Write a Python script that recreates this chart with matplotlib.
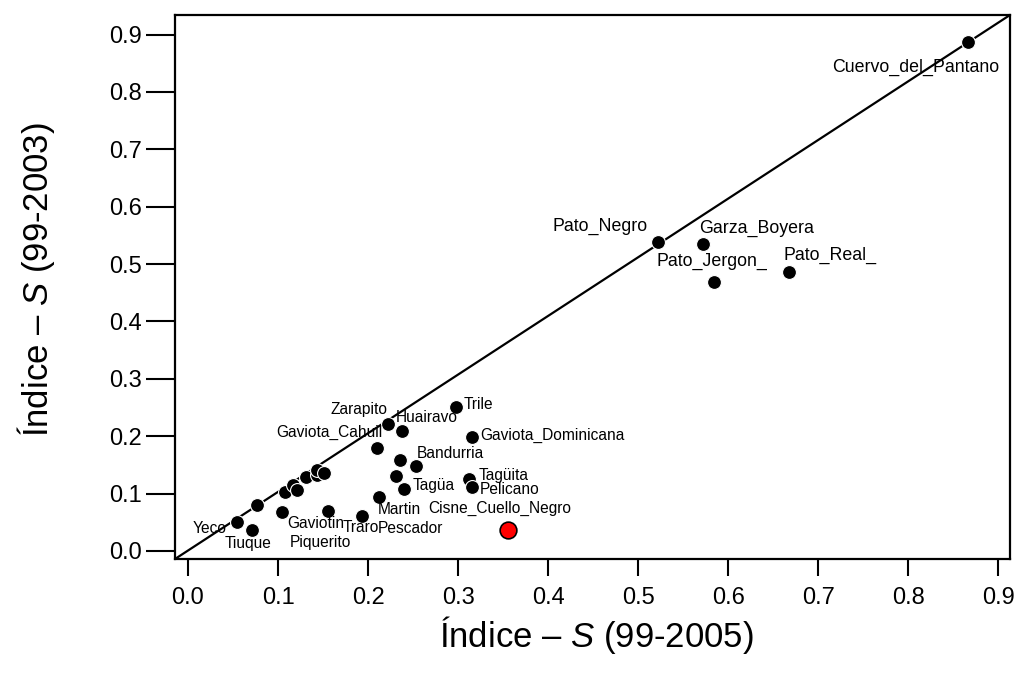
import numpy as np
import matplotlib
matplotlib.use("Agg")
import matplotlib.pyplot as plt

plt.rcParams['font.family'] = ['Liberation Sans', 'DejaVu Sans']
plt.rcParams['mathtext.fontset'] = 'custom'
plt.rcParams['mathtext.rm'] = 'Liberation Sans'
plt.rcParams['mathtext.it'] = 'Liberation Sans:italic'

# S index per species, two periods
species = [
    "Cuervo_del_Pantano", "Pato_Negro", "Garza_Boyera", "Pato_Jergon_", "Pato_Real_",
    "Trile", "Zarapito", "Huairavo", "Gaviota_Cahuil", "Gaviota_Dominicana",
    "", "Bandurria", "", "Tagüita", "Pelicano", "Tagüa", "Martin\nPescador",
    "Cisne_Cuello_Negro", "Traro", "Yeco", "Tiuque", "", "Gaviotin", "Piquerito",
    "", "", "", "", "", "", "",
]
s_99_2005 = [
    0.866, 0.522, 0.572, 0.584, 0.667,
    0.298, 0.222, 0.238, 0.210, 0.316,
    0.236, 0.253, 0.231, 0.312, 0.316, 0.240, 0.212,
    0.356, 0.193, 0.054, 0.071, 0.077, 0.104, 0.156,
    0.108, 0.117, 0.121, 0.131, 0.143, 0.143, 0.151,
]
s_99_2003 = [
    0.887, 0.538, 0.535, 0.469, 0.486,
    0.251, 0.221, 0.209, 0.179, 0.199,
    0.159, 0.148, 0.131, 0.125, 0.111, 0.108, 0.094,
    0.037, 0.061, 0.051, 0.037, 0.080, 0.068, 0.070,
    0.103, 0.115, 0.106, 0.129, 0.132, 0.141, 0.136,
]
highlight = "Cisne_Cuello_Negro"
ticks = [0.0, 0.1, 0.2, 0.3, 0.4, 0.5, 0.6, 0.7, 0.8, 0.9]

# label placement: dx, dy (pixels), horizontal alignment, font size
label_pos = {
    "Cuervo_del_Pantano": (32, -25, 'right', 12.8),
    "Pato_Negro": (-10, 16, 'right', 12.8),
    "Garza_Boyera": (-4, 16, 'left', 12.8),
    "Pato_Jergon_": (-2, 20, 'center', 12.8),
    "Pato_Real_": (-5, 17, 'left', 12.8),
    "Trile": (7, 2, 'left', 11.2),
    "Zarapito": (0, 15, 'right', 11.2),
    "Huairavo": (-7, 14, 'left', 11.2),
    "Gaviota_Cahuil": (5, 16, 'right', 11.2),
    "Gaviota_Dominicana": (8, 1, 'left', 11.2),
    "Bandurria": (1, 13, 'left', 11.2),
    "Tagüita": (10, 4, 'left', 11.2),
    "Pelicano": (7, -2, 'left', 11.2),
    "Tagüa": (9, 3, 'left', 11.2),
    "Martin\nPescador": (-1, -12, 'left', 11.2),
    "Cisne_Cuello_Negro": (-9, 21, 'center', 11.2),
    "Traro": (-1, -12, 'center', 11.2),
    "Yeco": (-10, -7, 'right', 11.2),
    "Tiuque": (-4, -14, 'center', 11.2),
    "Gaviotin": (6, -12, 'left', 11.2),
    "Piquerito": (-39, -32, 'left', 11.2),
}
line_step = 19  # pixels between lines of a two-line label

x = np.array(s_99_2005)
y = np.array(s_99_2003)
is_red = np.array([n == highlight for n in species])

fig = plt.figure(figsize=(10.16, 6.84), dpi=100)
ax = fig.add_axes([175 / 1016, 125 / 684, 835 / 1016, 544 / 684])

# 1:1 reference line, corner to corner of the plot region
ax.plot([0, 1], [0, 1], transform=ax.transAxes, color='black', lw=1.6, zorder=1)
ax.scatter(x[~is_red], y[~is_red], s=100, c='black', edgecolors='white',
           linewidths=0.8, zorder=3)
ax.scatter(x[is_red], y[is_red], s=145, c='red', edgecolors='black',
           linewidths=1.2, zorder=3)

for name, xi, yi in zip(species, x, y):
    if name not in label_pos:
        continue
    dx, dy, ha, fs = label_pos[name]
    for k, line in enumerate(name.split("\n")):
        ax.annotate(line, (xi, yi), xytext=(dx, dy - k * line_step),
                    textcoords='offset pixels', ha=ha, va='center',
                    fontsize=fs, zorder=4)

ax.set_xlim(-0.0144, 0.913)
ax.set_ylim(-0.014, 0.934)
ax.set_xticks(ticks)
ax.set_yticks(ticks)
ax.set_xticklabels([f"{t:.1f}" for t in ticks])
ax.set_yticklabels([f"{t:.1f}" for t in ticks])
ax.tick_params(axis='x', length=12, width=1.5, pad=8, labelsize=17)
ax.tick_params(axis='y', length=21, width=1.5, pad=3, labelsize=17)
for sp in ax.spines.values():
    sp.set_linewidth(1.6)

fig.text(596 / 1016, 1 - 635 / 684, r'Índice – $\mathit{S}$ (99-2005)',
         ha='center', va='center', fontsize=25)
fig.text(36 / 1016, 1 - 280 / 684, r'Índice – $\mathit{S}$ (99-2003)',
         ha='center', va='center', rotation=90, fontsize=25)

fig.savefig("out.png", dpi=100)
